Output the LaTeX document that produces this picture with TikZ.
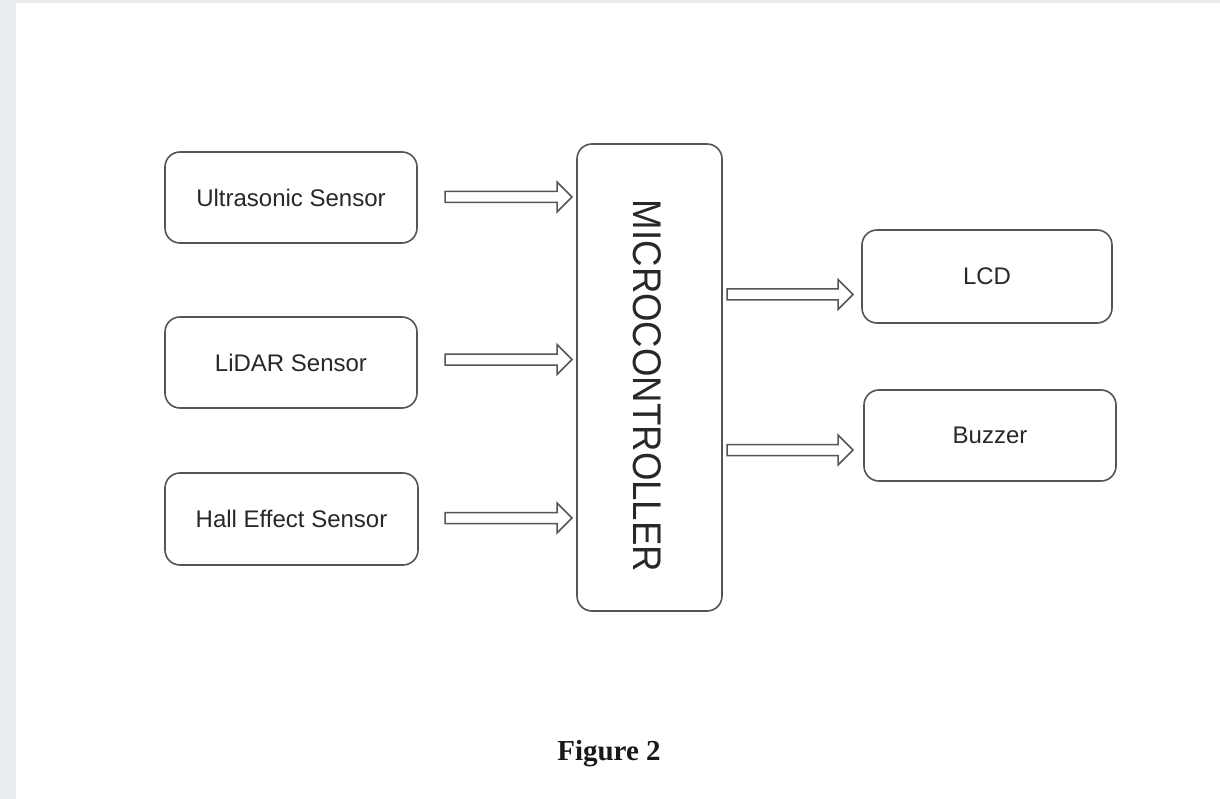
\documentclass[tikz,border=0pt]{standalone}
\usepackage{fontspec}
\setmainfont{Liberation Sans}
\newfontfamily\captionfont{Liberation Serif}
\usetikzlibrary{calc}
\definecolor{bggray}{RGB}{232,237,240}
\definecolor{linegray}{RGB}{85,85,85}
\definecolor{txtgray}{RGB}{40,40,40}
\tikzset{
  blockbox/.style={draw=linegray, line width=1.6pt, rounded corners=15pt, fill=white,
    text=txtgray, font=\fontsize{24}{28}\selectfont, inner sep=0pt},
  blockarrow/.style={draw=linegray, line width=1.5pt, fill=white, line join=miter}
}
\newcommand\hollowarrow[2]{%
  \draw[blockarrow] ($(#1)+(0,5.5)$) -- ($(#2)+(-15,5.5)$) -- ($(#2)+(-15,15)$) -- (#2)
    -- ($(#2)+(-15,-15)$) -- ($(#2)+(-15,-5.5)$) -- ($(#1)+(0,-5.5)$) -- cycle;}
\begin{document}
\begin{tikzpicture}[x=1pt,y=-1pt]
\useasboundingbox (0,0) rectangle (1220,799);
\fill[bggray] (0,0) rectangle (1220,799);
\fill[white] (16,3) rectangle (1220,799);

\node[blockbox, minimum width=252pt, minimum height=91pt] (us) at (291,197.5) {Ultrasonic Sensor};
\node[blockbox, minimum width=252pt, minimum height=91pt] (li) at (291,362.5) {LiDAR Sensor};
\node[blockbox, minimum width=253pt, minimum height=92pt] (he) at (291.5,519) {Hall Effect Sensor};
\node[blockbox, minimum width=145pt, minimum height=467pt] (mc) at (649.5,377.5) {};
\node[text=txtgray, font=\fontsize{40}{40}\selectfont, rotate=-90, inner sep=0pt] (mct) at (647,386) {\scalebox{0.915}[1]{MICROCONTROLLER}};
\node[blockbox, minimum width=250pt, minimum height=93pt] (lcd) at (987,276.5) {LCD};
\node[blockbox, minimum width=252pt, minimum height=91pt] (bz) at (990,435.5) {Buzzer};

\coordinate (a1s) at (445,197);
\coordinate (a1e) at (572,197);
\coordinate (a2s) at (445,359.5);
\coordinate (a2e) at (572,359.5);
\coordinate (a3s) at (445,518);
\coordinate (a3e) at (572,518);
\coordinate (a4s) at (727,294.5);
\coordinate (a4e) at (853,294.5);
\coordinate (a5s) at (727,450);
\coordinate (a5e) at (853,450);
\hollowarrow{a1s}{a1e}
\hollowarrow{a2s}{a2e}
\hollowarrow{a3s}{a3e}
\hollowarrow{a4s}{a4e}
\hollowarrow{a5s}{a5e}

\node[font=\captionfont\bfseries\fontsize{29}{32}\selectfont, text=black!90] (cap) at (609,754) {Figure 2};
\end{tikzpicture}
\end{document}
